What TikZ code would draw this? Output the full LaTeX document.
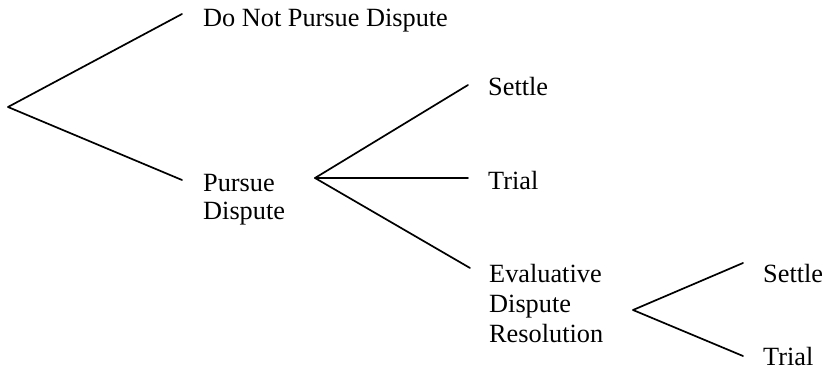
\documentclass[tikz,border=0pt]{standalone}
\usepackage{fontspec}
\setmainfont{Liberation Serif}
\begin{document}
\begin{tikzpicture}[x=1pt,y=-1pt,
  branch/.style={line width=1.7pt,line cap=round,line join=round},
  lbl/.style={anchor=base west,inner sep=0pt,font=\fontsize{26.3}{30}\selectfont,align=left}]
\useasboundingbox (0,0) rectangle (823,371);
% vertices and line ends
\coordinate (r) at (8,107);
\coordinate (r1) at (182,14);
\coordinate (r2) at (182,180);
\coordinate (p) at (315,178);
\coordinate (p1) at (468,85);
\coordinate (p2) at (468,178);
\coordinate (p3) at (470,268);
\coordinate (e) at (633,310);
\coordinate (e1) at (743,263);
\coordinate (e2) at (743,356);
% labels (multi-line nodes are anchored at their last baseline)
\node[lbl] (dnp) at (203,27) {Do Not Pursue Dispute};
\node[lbl,font=\fontsize{26.3}{28}\selectfont] (pd) at (203,220) {Pursue\\Dispute};
\node[lbl] (s1) at (488,96) {Settle};
\node[lbl] (t1) at (488,190) {Trial};
\node[lbl] (edr) at (489,343) {Evaluative\\Dispute\\Resolution};
\node[lbl] (s2) at (763,283) {Settle};
\node[lbl] (t2) at (763,366) {Trial};
% branches
\draw[branch] (r1) -- (r) -- (r2);
\draw[branch] (p1) -- (p) -- (p3);
\draw[branch] (p) -- (p2);
\draw[branch] (e1) -- (e) -- (e2);
\end{tikzpicture}
\end{document}
